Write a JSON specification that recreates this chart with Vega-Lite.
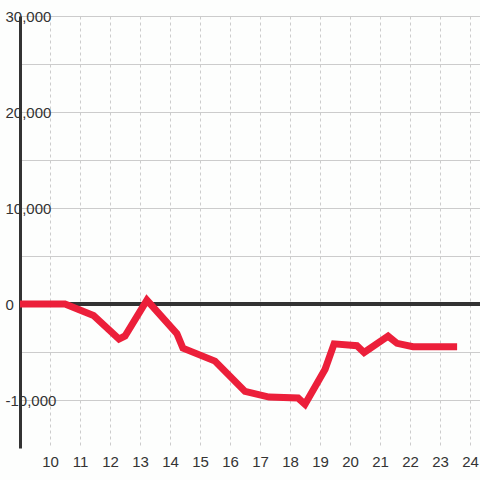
{
  "$schema": "https://vega.github.io/schema/vega-lite/v6.json",
  "width": 460,
  "height": 432,
  "autosize": {"type": "none"},
  "padding": {"left": 20, "top": 16, "right": 0, "bottom": 32},
  "background": "#fdfefd",
  "config": {
    "view": {"stroke": null},
    "axis": {"labelFont": "Liberation Sans", "labelFontSize": 15, "labelColor": "#333333", "ticks": false, "tickSize": 0, "title": null}
  },
  "data": {"values": [
    {"x": 9.0, "y": 0},
    {"x": 10.5, "y": 0},
    {"x": 11.45, "y": -1200},
    {"x": 12.3, "y": -3650},
    {"x": 12.5, "y": -3330},
    {"x": 13.23, "y": 400},
    {"x": 14.23, "y": -3100},
    {"x": 14.43, "y": -4600},
    {"x": 15.5, "y": -5950},
    {"x": 16.5, "y": -9100},
    {"x": 17.3, "y": -9700},
    {"x": 18.27, "y": -9800},
    {"x": 18.5, "y": -10450},
    {"x": 19.17, "y": -6800},
    {"x": 19.47, "y": -4150},
    {"x": 20.23, "y": -4350},
    {"x": 20.47, "y": -5050},
    {"x": 21.27, "y": -3350},
    {"x": 21.57, "y": -4100},
    {"x": 22.1, "y": -4450},
    {"x": 23.57, "y": -4450}
  ]},
  "layer": [
    {
      "mark": {"type": "rule", "color": "#333333", "strokeWidth": 3},
      "encoding": {"y": {"datum": 0, "type": "quantitative"}}
    },
    {
      "mark": {"type": "line", "color": "#ec1f3a", "strokeWidth": 7, "strokeJoin": "miter", "strokeCap": "butt"},
      "encoding": {
        "x": {
          "field": "x", "type": "quantitative",
          "scale": {"domain": [9, 24.333], "nice": false, "zero": false},
          "axis": {
            "values": [10, 11, 12, 13, 14, 15, 16, 17, 18, 19, 20, 21, 22, 23, 24],
            "domain": false,
            "grid": true, "gridColor": "#cccccc", "gridDash": [3, 3], "gridWidth": 1,
            "labelPadding": 6, "labelFlush": false
          }
        },
        "y": {
          "field": "y", "type": "quantitative",
          "scale": {"domain": [-15000, 30000], "nice": false},
          "axis": {
            "values": [-10000, -5000, 0, 5000, 10000, 15000, 20000, 25000, 30000],
            "labelExpr": "datum.value % 10000 === 0 ? replace(format(datum.value, ','), '\u2212', '-') : ''",
            "domain": true, "domainColor": "#333333", "domainWidth": 3,
            "grid": true, "gridColor": "#cccccc", "gridWidth": 1,
            "labelAlign": "left", "labelBaseline": "middle", "labelPadding": 15, "labelFlush": false
          }
        }
      }
    }
  ]
}
